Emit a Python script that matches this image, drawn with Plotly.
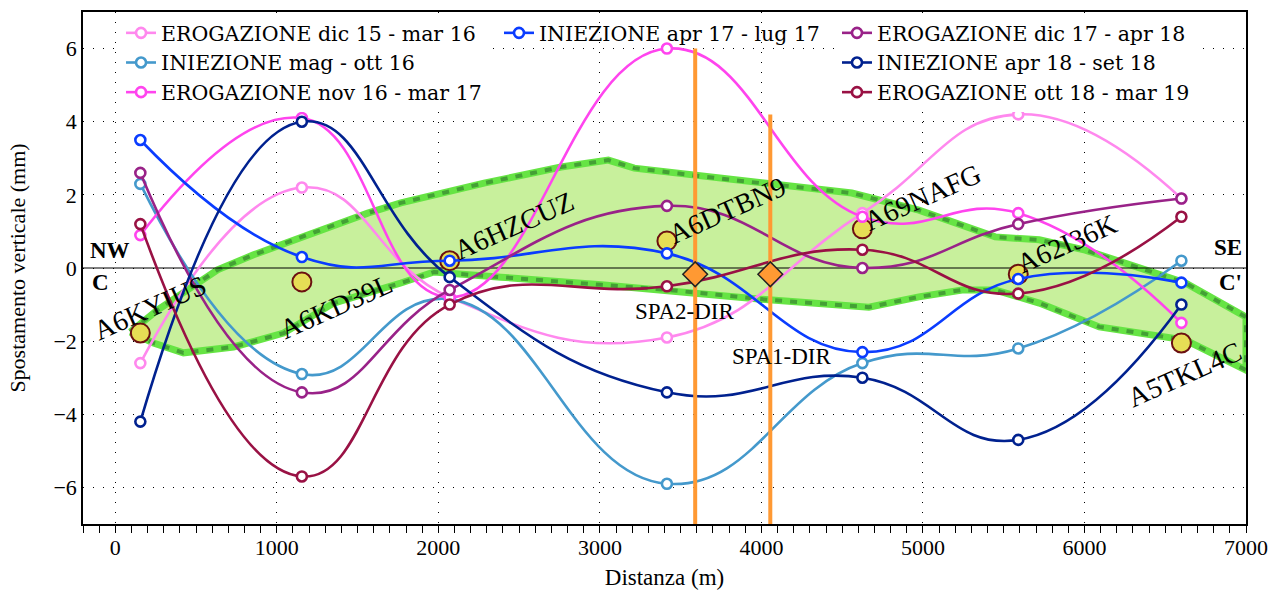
import plotly.graph_objects as go

# ---------------- data ----------------
stations_x = [155, 1155, 2070, 3415, 4625, 5590, 6600]

series_names = [
    "EROGAZIONE dic 15 - mar 16",
    "INIEZIONE mag - ott 16",
    "EROGAZIONE nov 16 - mar 17",
    "INIEZIONE apr 17 - lug 17",
    "EROGAZIONE dic 17 - apr 18",
    "INIEZIONE apr 18 - set 18",
    "EROGAZIONE ott 18 - mar 19",
]
erog_dic15_mar16 = [-2.6, 2.2, -0.8, -1.9, 1.5, 4.2, 1.9]
iniez_mag_ott16 = [2.3, -2.9, -0.85, -5.9, -2.6, -2.2, 0.2]
erog_nov16_mar17 = [0.9, 4.1, -0.8, 6.0, 1.4, 1.5, -1.5]
iniez_apr17_lug17 = [3.5, 0.3, 0.2, 0.4, -2.3, -0.3, -0.4]
erog_dic17_apr18 = [2.6, -3.4, -0.6, 1.7, 0.0, 1.2, 1.9]
iniez_apr18_set18 = [-4.2, 4.0, -0.25, -3.4, -3.0, -4.7, -1.0]
erog_ott18_mar19 = [1.2, -5.7, -1.0, -0.5, 0.5, -0.7, 1.4]

series_values = [erog_dic15_mar16, iniez_mag_ott16, erog_nov16_mar17,
                 iniez_apr17_lug17, erog_dic17_apr18, iniez_apr18_set18,
                 erog_ott18_mar19]
series_colors = ["#ff88ee", "#4499cc", "#ff44ee", "#0a3cff",
                 "#992288", "#00218f", "#991144"]
series_legend = ["legend", "legend", "legend", "legend2",
                 "legend3", "legend3", "legend3"]

# GNSS stations
gnss_names = ["A6KYIUS", "A6KD39L", "A6HZCUZ", "A6DTBN9", "A69NAFG", "A62I36K", "A5TKL4C"]
gnss_values = [-1.78, -0.38, 0.2, 0.74, 1.07, -0.17, -2.05]
gnss_label_x = [217, 1365, 2469, 3784, 4994, 5893, 6619]
gnss_label_y = [-1.09, -1.04, 1.17, 1.58, 1.94, 0.66, -2.92]

# band (upper boundary left->right, lower boundary right->left)
band_upper_x = [93, 261, 447, 633, 856, 1148, 1272, 1563, 1768, 2283, 2760, 3052,
                3213, 3834, 4560, 4975, 5447, 5720, 6005, 6625, 7000]
band_upper_y = [-1.75, -1.15, -0.60, -0.05, 0.36, 0.85, 1.04, 1.50, 1.78, 2.32, 2.76,
                2.95, 2.73, 2.40, 2.05, 1.58, 0.85, 0.77, 0.49, -0.41, -1.34]
band_lower_x = [7000, 6625, 6092, 5720, 5447, 5242, 4975, 4665, 4045, 3424, 3009,
                2388, 1973, 1768, 1352, 1042, 732, 422, 236, 93]
band_lower_y = [-2.79, -1.97, -1.61, -0.96, -0.60, -0.60, -0.79, -1.07, -0.87, -0.60,
                -0.46, -0.25, -0.11, -0.41, -0.96, -1.78, -2.16, -2.32, -2.05, -1.75]

# SPA wells
spa_names = ["SPA2-DIR", "SPA1-DIR"]
spa_x = [3590, 4055]
spa_top = [6.0, 4.2]
spa_marker_y = [-0.17, -0.17]
spa_label_x = [3524, 4125]
spa_label_y = [-1.2, -2.43]

x_range = [-200, 7000]
y_range = [-7, 7]

SERIF = "Liberation Serif"
LEG_FONT = "DejaVu Serif"

fig = go.Figure()

# band
band_x = band_upper_x + band_lower_x
band_y = band_upper_y + band_lower_y
fig.add_trace(go.Scatter(x=band_x, y=band_y, mode="lines", fill="toself",
                         fillcolor="#c8f09c", line=dict(color="#66e444", width=7),
                         showlegend=False, hoverinfo="skip"))
fig.add_trace(go.Scatter(x=band_x, y=band_y, mode="lines",
                         line=dict(color="#44a035", width=4, dash="7px,8px"),
                         showlegend=False, hoverinfo="skip"))

# zero reference line (above band)
fig.add_trace(go.Scatter(x=x_range, y=[0, 0], mode="lines",
                         line=dict(color="black", width=1.2),
                         showlegend=False, hoverinfo="skip"))

# GNSS points
fig.add_trace(go.Scatter(x=stations_x, y=gnss_values, mode="markers",
                         marker=dict(size=19, color="#e6de55",
                                     line=dict(color="#6b1010", width=2)),
                         showlegend=False, hoverinfo="skip"))

# series
for name, vals, col, leg in zip(series_names, series_values, series_colors, series_legend):
    fig.add_trace(go.Scatter(
        x=stations_x, y=vals, name=name, mode="lines+markers",
        line=dict(color=col, width=2.6, shape="spline", smoothing=1.3),
        marker=dict(symbol="circle", size=10, color="white",
                    line=dict(color=col, width=2.6)),
        legend=leg))

# SPA vertical lines
for xv, top in zip(spa_x, spa_top):
    fig.add_trace(go.Scatter(x=[xv, xv], y=[y_range[0], top], mode="lines",
                             line=dict(color="#ff9933", width=4),
                             showlegend=False, hoverinfo="skip"))
fig.add_trace(go.Scatter(x=spa_x, y=spa_marker_y, mode="markers",
                         marker=dict(symbol="diamond", size=19, color="#ff9933",
                                     line=dict(color="#222222", width=1.5)),
                         showlegend=False, hoverinfo="skip"))

annotations = []
for nm, xv, yv in zip(gnss_names, gnss_label_x, gnss_label_y):
    annotations.append(dict(x=xv, y=yv, text=nm, showarrow=False, textangle=-24,
                            font=dict(family=SERIF, size=28, color="black"),
                            xanchor="center", yanchor="middle"))
for nm, xv, yv in zip(spa_names, spa_label_x, spa_label_y):
    annotations.append(dict(x=xv, y=yv, text=nm, showarrow=False,
                            font=dict(family=SERIF, size=23, color="black"),
                            xanchor="center", yanchor="middle"))
for txt, xv, yv in [("<b>NW</b>", -31, 0.49), ("<b>C</b>", -93, -0.41),
                    ("<b>SE</b>", 6886, 0.55), ("<b>C'</b>", 6905, -0.41)]:
    annotations.append(dict(x=xv, y=yv, text=txt, showarrow=False,
                            font=dict(family=SERIF, size=23, color="black"),
                            xanchor="center", yanchor="middle"))

legend_common = dict(borderwidth=0, yanchor="top", xanchor="left",
                     font=dict(family=LEG_FONT, size=20.5, color="black"),
                     tracegroupgap=0, itemwidth=30)

fig.update_layout(
    width=1285, height=590,
    margin=dict(l=83, r=39, t=12, b=66, autoexpand=False),
    paper_bgcolor="white", plot_bgcolor="white",
    font=dict(family=SERIF, color="black"),
    annotations=annotations,
    legend=dict(x=0.0327, y=0.998, bgcolor="white", **legend_common),
    legend2=dict(x=0.3577, y=0.998, bgcolor="rgba(0,0,0,0)", **legend_common),
    legend3=dict(x=0.6483, y=0.998, bgcolor="white", **legend_common),
    xaxis=dict(range=x_range, dtick=1000, tick0=0, showgrid=True, gridcolor="black",
               griddash="1px,9px", gridwidth=1, zeroline=False, automargin=False,
               showline=True, mirror=True, linecolor="black", linewidth=1.5,
               ticks="outside", ticklen=7, tickcolor="black", ticklabelstandoff=-4,
               minor=dict(dtick=100, tick0=0, ticks="outside", ticklen=7,
                          tickcolor="black", showgrid=False),
               tickfont=dict(family=SERIF, size=22),
               title=dict(text="Distanza (m)", font=dict(family=SERIF, size=23), standoff=17)),
    yaxis=dict(range=y_range, dtick=2, tick0=0, showgrid=True, gridcolor="black",
               griddash="1px,9px", gridwidth=1, zeroline=False, automargin=False,
               showline=True, mirror=True, linecolor="black",
               linewidth=1.5, ticks="", tickfont=dict(family=SERIF, size=22),
               title=dict(text="Spostamento verticale (mm)",
                          font=dict(family=SERIF, size=22), standoff=22)),
)

fig.write_html("out.html")
